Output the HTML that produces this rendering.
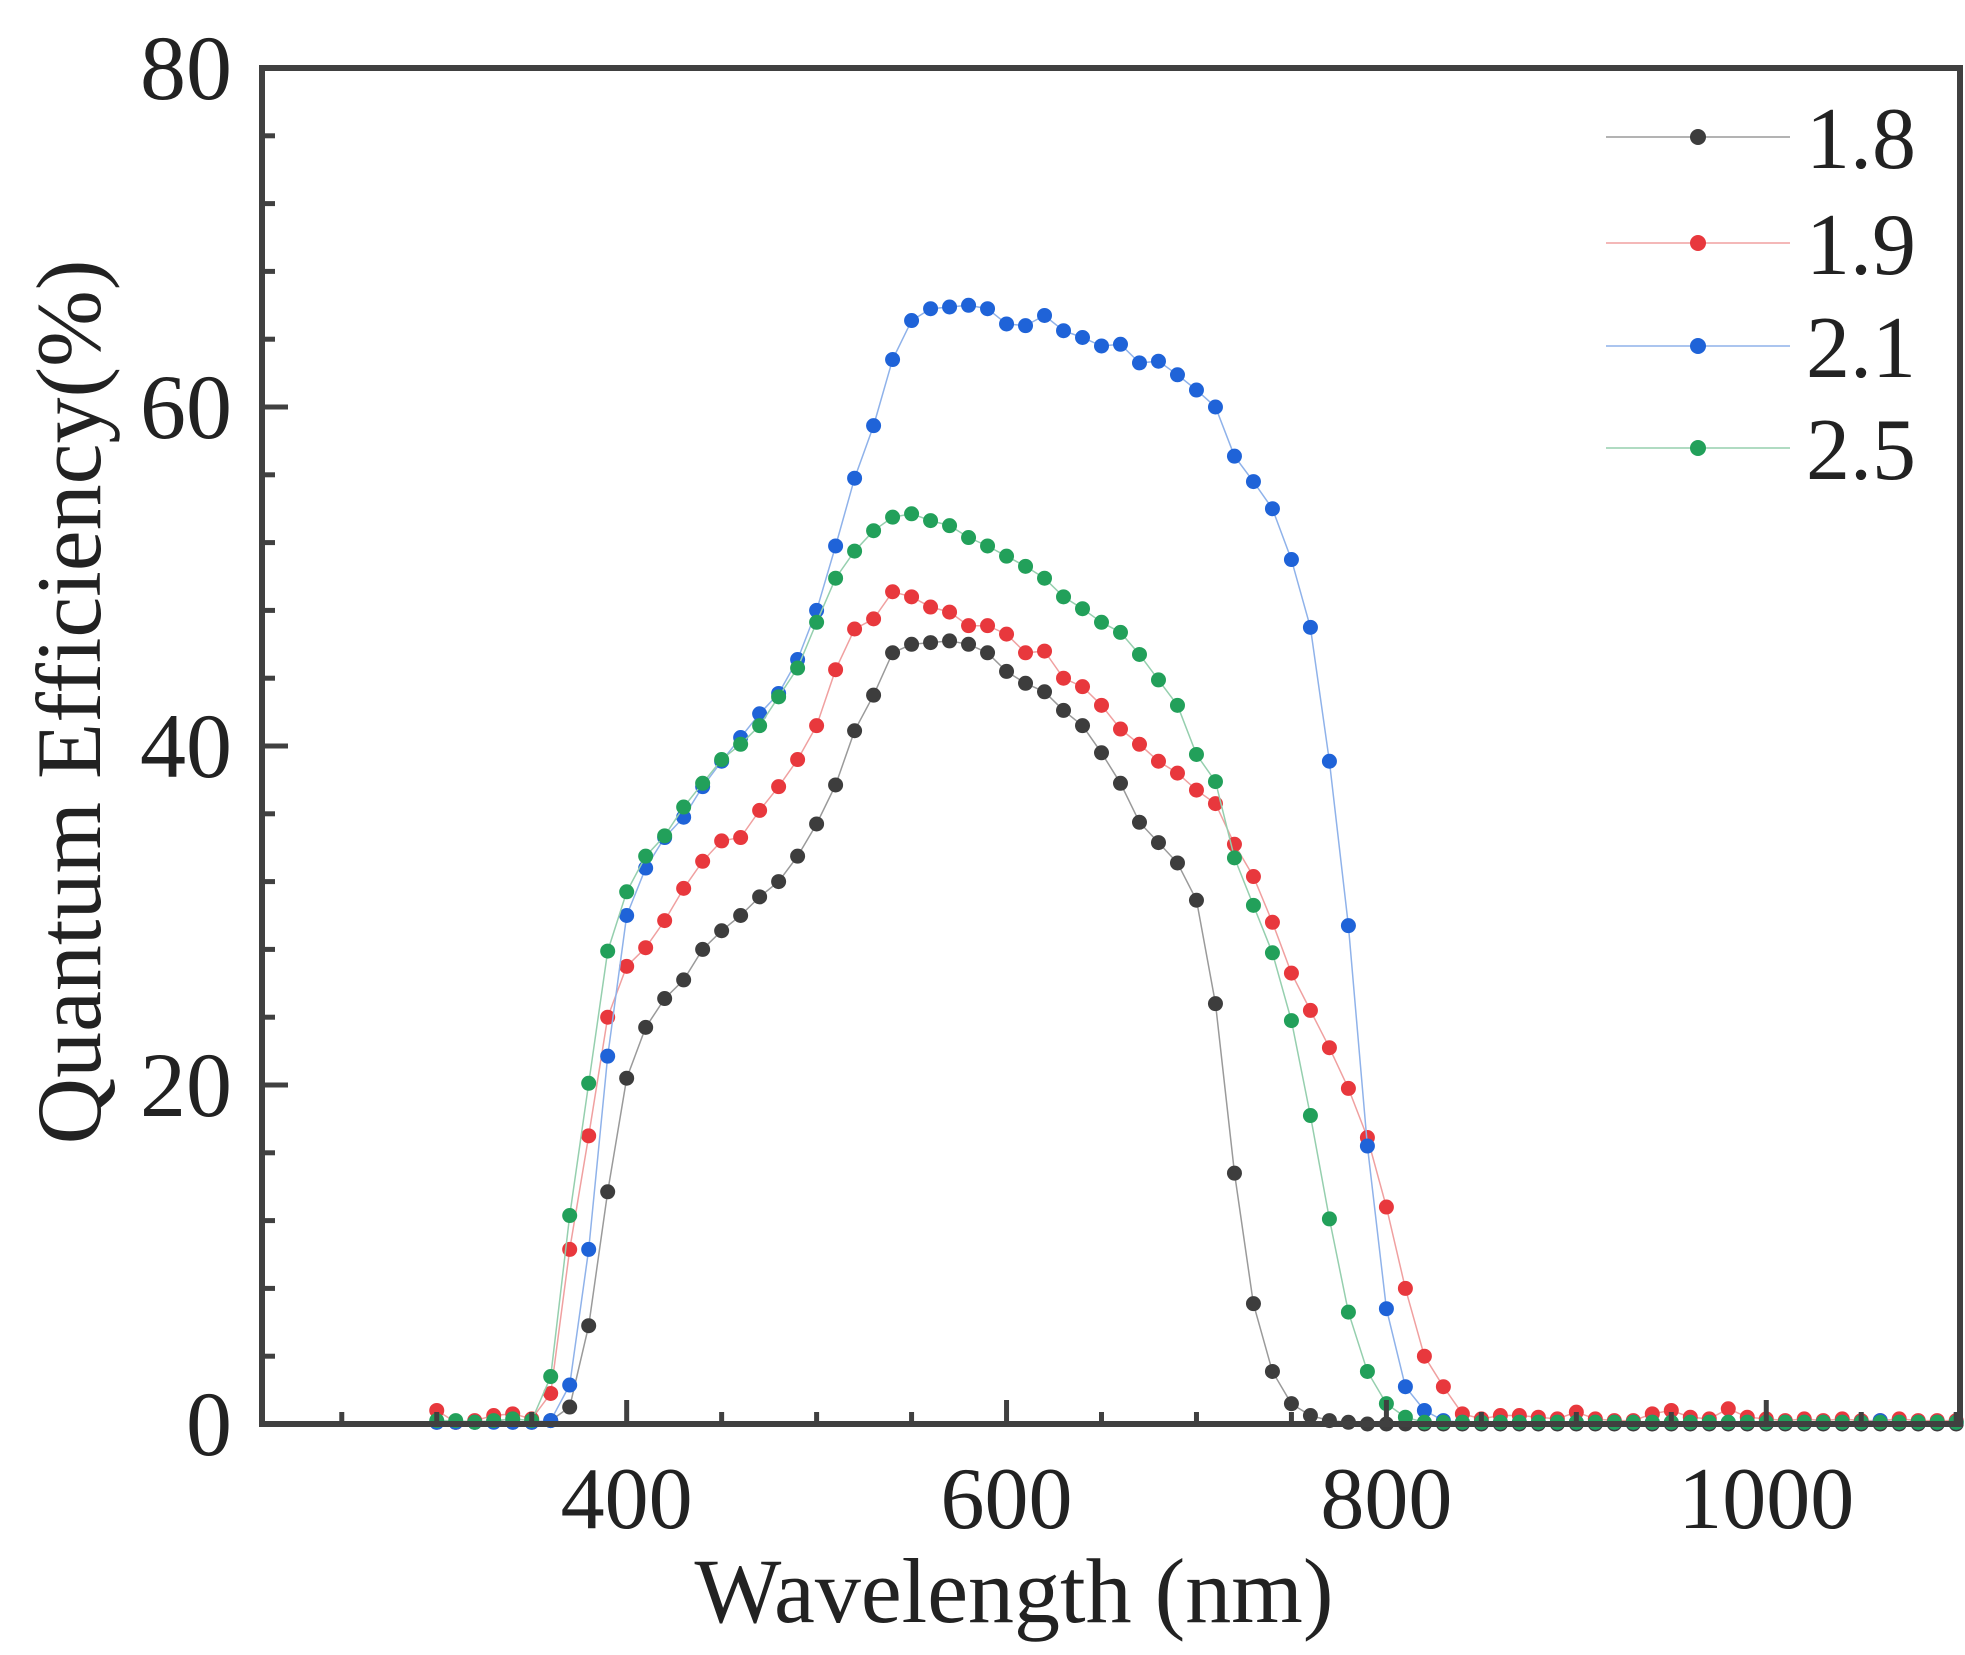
<!DOCTYPE html>
<html><head><meta charset="utf-8"><style>
html,body{margin:0;padding:0;background:#fff;}
svg{display:block;}
text{font-family:"Liberation Serif",serif;fill:#222;}
</style></head><body>
<svg id="chart" width="1965" height="1655" viewBox="0 0 1965 1655" xmlns="http://www.w3.org/2000/svg">
<g id="plot"></g>
</svg>
<script>
const wavelengths = [];
for (let w = 300; w <= 1100; w += 10) wavelengths.push(w);
const seriesNames = ["1.8","1.9","2.1","2.5"];
const seriesColors = ["#3d3d3d","#e8383d","#1f63d8","#22a05a"];
const lineColors = ["#9a9a9a","#f0a0a0","#8fb2ea","#95cfae"];
const qe18 = [0.1,0.1,0.1,0.2,0.1,0.1,0.2,1.0,5.8,13.7,20.4,23.4,25.1,26.2,28.0,29.1,30.0,31.1,32.0,33.5,35.4,37.7,40.9,43.0,45.5,46.0,46.1,46.2,46.0,45.5,44.4,43.7,43.2,42.1,41.2,39.6,37.8,35.5,34.3,33.1,30.9,24.8,14.8,7.1,3.1,1.2,0.5,0.2,0.1,0.0,0.0,0.0,0.0,0.0,0.0,0.0,0.0,0.0,0.0,0.0,0.0,0.0,0.0,0.0,0.0,0.0,0.0,0.0,0.0,0.0,0.0,0.0,0.0,0.0,0.0,0.0,0.0,0.0,0.0,0.0,0.0];
const qe19 = [0.8,0.1,0.2,0.5,0.6,0.3,1.8,10.3,17.0,24.0,27.0,28.1,29.7,31.6,33.2,34.4,34.6,36.2,37.6,39.2,41.2,44.5,46.9,47.5,49.1,48.8,48.2,47.9,47.1,47.1,46.6,45.5,45.6,44.0,43.5,42.4,41.0,40.1,39.1,38.4,37.4,36.6,34.2,32.3,29.6,26.6,24.4,22.2,19.8,16.9,12.8,8.0,4.0,2.2,0.6,0.3,0.5,0.5,0.4,0.3,0.7,0.3,0.2,0.2,0.6,0.8,0.4,0.3,0.9,0.4,0.3,0.2,0.3,0.2,0.3,0.2,0.2,0.3,0.2,0.2,0.2];
const qe21 = [0.1,0.1,0.1,0.1,0.1,0.1,0.2,2.3,10.3,21.7,30.0,32.8,34.6,35.8,37.6,39.1,40.5,41.9,43.1,45.1,48.0,51.8,55.8,58.9,62.8,65.1,65.8,65.9,66.0,65.8,64.9,64.8,65.4,64.5,64.1,63.6,63.7,62.6,62.7,61.9,61.0,60.0,57.1,55.6,54.0,51.0,47.0,39.1,29.4,16.4,6.8,2.2,0.8,0.2,0.1,0.1,0.1,0.1,0.1,0.1,0.1,0.1,0.1,0.1,0.1,0.1,0.1,0.1,0.1,0.1,0.1,0.1,0.1,0.1,0.1,0.1,0.2,0.1,0.1,0.1,0.1];
const qe25 = [0.2,0.2,0.1,0.2,0.3,0.2,2.8,12.3,20.1,27.9,31.4,33.5,34.7,36.4,37.8,39.2,40.1,41.2,42.9,44.6,47.3,49.9,51.5,52.7,53.5,53.7,53.3,53.0,52.3,51.8,51.2,50.6,49.9,48.8,48.1,47.3,46.7,45.4,43.9,42.4,39.5,37.9,33.4,30.6,27.8,23.8,18.2,12.1,6.6,3.1,1.2,0.4,0.1,0.1,0.1,0.1,0.1,0.1,0.1,0.1,0.1,0.1,0.1,0.1,0.1,0.1,0.1,0.1,0.1,0.1,0.1,0.1,0.1,0.1,0.1,0.1,0.1,0.1,0.1,0.1,0.1];
const xTicks = [400,600,800,1000];
const yTicks = [0,20,40,60,80];

const NS="http://www.w3.org/2000/svg";
const L=262,R=1960,T=68,B=1424,XMIN=208,XMAX=1102,YMIN=0,YMAX=80;
const xs=v=>L+(v-XMIN)/(XMAX-XMIN)*(R-L);
const ys=v=>B-(v-YMIN)/(YMAX-YMIN)*(B-T);
const g=document.getElementById('plot');
function mk(tag,attrs,parent){const e=document.createElementNS(NS,tag);for(const k in attrs)e.setAttribute(k,attrs[k]);(parent||g).appendChild(e);return e;}

const allSeries=[qe18,qe19,qe21,qe25];
allSeries.forEach((vals,si)=>{
  const sg=mk('g',{});
  
  
  const pts=[];
  vals.forEach((v,i)=>{const w=wavelengths[i]; if(w<=XMAX) pts.push(xs(w).toFixed(1)+','+ys(v).toFixed(1));});
  const pl=mk('polyline',{points:pts.join(' '),fill:'none',stroke:lineColors[si],'stroke-width':1.5},sg);
  
  
  vals.forEach((v,i)=>{const w=wavelengths[i]; if(w>XMAX) return;
    const c=mk('circle',{cx:xs(w),cy:ys(v),r:7.5,fill:seriesColors[si]},sg);
    
    
  });
});

const ax=mk('path',{d:`M${L},${T} H${R} V${B} H${L} Z`,fill:'none',stroke:'#404040','stroke-width':6});


for(let w=250;w<=1100;w+=50){
  const major=xTicks.includes(w);
  const t=mk('line',{x1:xs(w),x2:xs(w),y1:B,y2:B-(major?24:12),stroke:'#404040','stroke-width':5});
  
  
}
xTicks.forEach(w=>{
  const t=mk('text',{x:xs(w),y:1528,'font-size':88,'text-anchor':'middle'});
  t.textContent=w;
  
  
});
for(let v=4;v<80;v+=4){
  const major=yTicks.includes(v);
  const t=mk('line',{x1:L,x2:L+(major?26:13),y1:ys(v),y2:ys(v),stroke:'#404040','stroke-width':5});
  
  
}
yTicks.forEach(v=>{
  const t=mk('text',{x:232,y:ys(v)+31,'font-size':92,'text-anchor':'end'});
  t.textContent=v;
  
  
});
const xt=mk('text',{x:1014,y:1622,'font-size':92,'text-anchor':'middle'});
xt.textContent='Wavelength (nm)';


const yt=mk('text',{x:0,y:0,'font-size':92,'text-anchor':'middle',transform:'translate(100,702) rotate(-90)'});
yt.textContent='Quantum Efficiency(%)';



const legendY=[137,243,346,448];
seriesNames.forEach((n,i)=>{
  const lg=mk('g',{});
  
  
  mk('line',{x1:1606,x2:1790,y1:legendY[i],y2:legendY[i],stroke:lineColors[i],'stroke-width':1.5},lg);
  mk('circle',{cx:1698,cy:legendY[i],r:8,fill:seriesColors[i]},lg);
  const t=mk('text',{x:1806,y:legendY[i]+31,'font-size':88},lg);
  t.textContent=n;
});
</script>
</body></html>
